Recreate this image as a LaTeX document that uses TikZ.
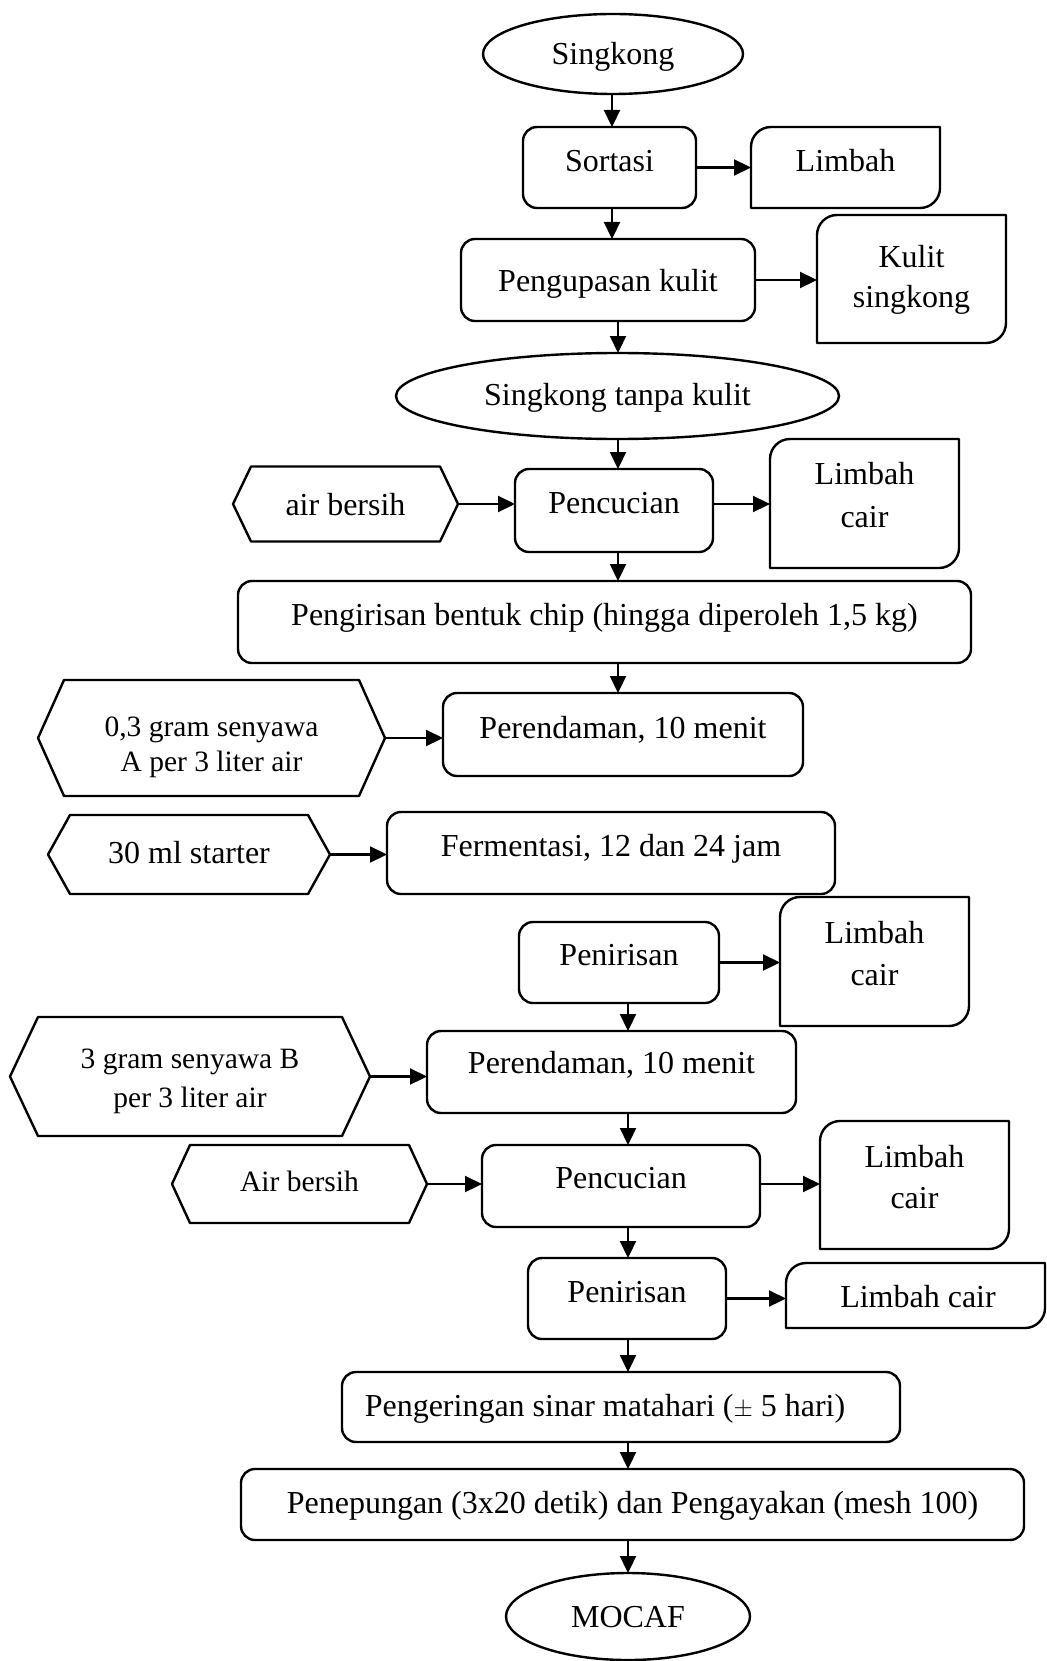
\documentclass[tikz,border=0pt]{standalone}
\usepackage{fontspec}
\setmainfont{Liberation Serif}
\usetikzlibrary{shapes.geometric,arrows.meta}
\newcommand{\diagshape}[1]{\draw[shp] (#1.south west) -- ([yshift=-20pt]#1.north west) .. controls ([yshift=-9pt]#1.north west) and ([xshift=9pt]#1.north west) .. ([xshift=20pt]#1.north west) -- (#1.north east) -- ([yshift=20pt]#1.south east) .. controls ([yshift=9pt]#1.south east) and ([xshift=-9pt]#1.south east) .. ([xshift=-20pt]#1.south east) -- cycle;}
\newcommand{\hexshape}[2]{\draw[shp] (#1.west) -- ([xshift=#2]#1.north west) -- ([xshift=-#2]#1.north east) -- (#1.east) -- ([xshift=-#2]#1.south east) -- ([xshift=#2]#1.south west) -- cycle;}
\tikzset{
  shp/.style={line width=2.4pt, line join=round},
  proc/.style={draw, line width=2.4pt, rounded corners=14pt, inner sep=0pt, outer sep=0pt},
  holder/.style={inner sep=0pt, outer sep=0pt},
  oval/.style={ellipse, draw, line width=2.4pt, inner sep=0pt, outer sep=0pt},
  txt/.style={inner sep=0pt, anchor=base, font=\fontsize{32}{38}\selectfont},
  stxt/.style={inner sep=0pt, anchor=base, font=\fontsize{29.5}{35}\selectfont},
  arr/.style={line width=2.2pt, -{Triangle[length=17pt,width=16pt]}},
}
\begin{document}
\begin{tikzpicture}[x=1pt,y=-1pt]
\useasboundingbox (0,0) rectangle (1046,1661);
\coordinate (xa) at (612,0);
\coordinate (xb) at (618,0);
\coordinate (xc) at (628,0);

% ---- shapes ----
\node[oval, minimum width=260pt, minimum height=80pt] (singkong) at (613,54) {};
\node[txt] (singkong-t) at (613,65) {Singkong};

\node[proc, minimum width=173pt, minimum height=81pt] (sortasi) at (609.5,167.5) {};
\node[txt] (sortasi-t) at (609.5,172) {Sortasi};

\node[holder, minimum width=189pt, minimum height=81pt] (limbah1) at (845.5,167.5) {};
\diagshape{limbah1}
\node[txt] (limbah1-t) at (845.5,172) {Limbah};

\node[proc, minimum width=294pt, minimum height=82pt] (kupas) at (608,280) {};
\node[txt] (kupas-t) at (608,292) {Pengupasan kulit};

\node[holder, minimum width=189pt, minimum height=128pt] (kulit) at (911.5,279) {};
\diagshape{kulit}
\node[txt] (kulit-t1) at (911.5,268) {Kulit};
\node[txt] (kulit-t2) at (911.5,308) {singkong};

\node[oval, minimum width=443pt, minimum height=86pt] (tanpa) at (617.5,396) {};
\node[txt] (tanpa-t) at (617.5,405) {Singkong tanpa kulit};

\node[proc, minimum width=198pt, minimum height=83pt] (cuci1) at (614,510.5) {};
\node[txt] (cuci1-t) at (614,513) {Pencucian};

\node[holder, minimum width=225pt, minimum height=75pt] (air1) at (345.5,504) {};
\hexshape{air1}{18pt}
\node[txt] (air1-t) at (345.5,515) {air bersih};

\node[holder, minimum width=189pt, minimum height=129pt] (limbah2) at (864.5,503.5) {};
\diagshape{limbah2}
\node[txt] (limbah2-t1) at (864.5,484) {Limbah};
\node[txt] (limbah2-t2) at (864.5,527) {cair};

\node[proc, minimum width=733pt, minimum height=82pt] (iris) at (604.5,622) {};
\node[txt] (iris-t) at (604.5,625) {Pengirisan bentuk chip (hingga diperoleh 1,5 kg)};

\node[proc, minimum width=360pt, minimum height=83pt] (rendam1) at (623,734.5) {};
\node[txt] (rendam1-t) at (623,738) {Perendaman, 10 menit};

\node[holder, minimum width=347pt, minimum height=116pt] (senA) at (211.5,738) {};
\hexshape{senA}{26pt}
\node[stxt] (senA-t1) at (211.5,736) {0,3 gram senyawa};
\node[stxt] (senA-t2) at (211.5,771) {A per 3 liter air};

\node[proc, minimum width=448pt, minimum height=82pt] (ferm) at (611,853) {};
\node[txt] (ferm-t) at (611,856) {Fermentasi, 12 dan 24 jam};

\node[holder, minimum width=282pt, minimum height=79pt] (starter) at (189,854.5) {};
\hexshape{starter}{22pt}
\node[txt] (starter-t) at (189,863) {30 ml starter};

\node[proc, minimum width=200pt, minimum height=81pt] (tiris1) at (619,962.5) {};
\node[txt] (tiris1-t) at (619,965) {Penirisan};

\node[holder, minimum width=189pt, minimum height=129pt] (limbah3) at (874.5,961.5) {};
\diagshape{limbah3}
\node[txt] (limbah3-t1) at (874.5,943) {Limbah};
\node[txt] (limbah3-t2) at (874.5,985) {cair};

\node[proc, minimum width=369pt, minimum height=82pt] (rendam2) at (611.5,1072) {};
\node[txt] (rendam2-t) at (611.5,1073) {Perendaman, 10 menit};

\node[holder, minimum width=360pt, minimum height=119pt] (senB) at (190,1076.5) {};
\hexshape{senB}{28pt}
\node[stxt] (senB-t1) at (190,1068) {3 gram senyawa B};
\node[stxt] (senB-t2) at (190,1107) {per 3 liter air};

\node[proc, minimum width=278pt, minimum height=82pt] (cuci2) at (621,1186) {};
\node[txt] (cuci2-t) at (621,1188) {Pencucian};

\node[holder, minimum width=255pt, minimum height=78pt] (air2) at (299.5,1184) {};
\hexshape{air2}{18pt}
\node[stxt] (air2-t) at (299.5,1191) {Air bersih};

\node[holder, minimum width=189pt, minimum height=128pt] (limbah4) at (914.5,1185) {};
\diagshape{limbah4}
\node[txt] (limbah4-t1) at (914.5,1167) {Limbah};
\node[txt] (limbah4-t2) at (914.5,1208) {cair};

\node[proc, minimum width=198pt, minimum height=81pt] (tiris2) at (627,1298.5) {};
\node[txt] (tiris2-t) at (627,1302) {Penirisan};

\node[holder, minimum width=259pt, minimum height=65pt] (limbah5) at (915.5,1295.5) {};
\diagshape{limbah5}
\node[txt] (limbah5-t) at (918,1307) {Limbah cair};

\node[proc, minimum width=558pt, minimum height=70pt] (kering) at (621,1407) {};
\node[txt] (kering-t) at (605,1416) {Pengeringan sinar matahari ($\pm$ 5 hari)};

\node[proc, minimum width=783pt, minimum height=71pt] (tepung) at (632.5,1504.5) {};
\node[txt] (tepung-t) at (632.5,1513) {Penepungan (3x20 detik) dan Pengayakan (mesh 100)};

\node[oval, minimum width=244pt, minimum height=87pt] (mocaf) at (628,1616.5) {};
\node[txt] (mocaf-t) at (628,1627) {MOCAF};

% ---- connectors ----
\draw[arr] (singkong.south -| xa) -- (sortasi.north -| xa);
\draw[arr] (sortasi.south -| xa) -- (kupas.north -| xa);
\draw[arr] (kupas.south -| xb) -- (tanpa.north -| xb);
\draw[arr] (tanpa.south -| xb) -- (cuci1.north -| xb);
\draw[arr] (cuci1.south -| xb) -- (iris.north -| xb);
\draw[arr] (iris.south -| xb) -- (rendam1.north -| xb);
\draw[arr] (tiris1.south -| xc) -- (rendam2.north -| xc);
\draw[arr] (rendam2.south -| xc) -- (cuci2.north -| xc);
\draw[arr] (cuci2.south -| xc) -- (tiris2.north -| xc);
\draw[arr] (tiris2.south -| xc) -- (kering.north -| xc);
\draw[arr] (kering.south -| xc) -- (tepung.north -| xc);
\draw[arr] (tepung.south -| xc) -- (mocaf.north -| xc);

\draw[arr] (sortasi.east) -- (limbah1.west |- sortasi.east);
\draw[arr] (kupas.east) -- (kulit.west |- kupas.east);
\draw[arr] (air1.east) -- (cuci1.west |- air1.east);
\draw[arr] (cuci1.east |- air1.east) -- (limbah2.west |- air1.east);
\draw[arr] (senA.east) -- (rendam1.west |- senA.east);
\draw[arr] (starter.east) -- (ferm.west |- starter.east);
\draw[arr] (tiris1.east) -- (limbah3.west |- tiris1.east);
\draw[arr] (senB.east) -- (rendam2.west |- senB.east);
\draw[arr] (air2.east) -- (cuci2.west |- air2.east);
\draw[arr] (cuci2.east |- air2.east) -- (limbah4.west |- air2.east);
\draw[arr] (tiris2.east) -- (limbah5.west |- tiris2.east);
\end{tikzpicture}
\end{document}
